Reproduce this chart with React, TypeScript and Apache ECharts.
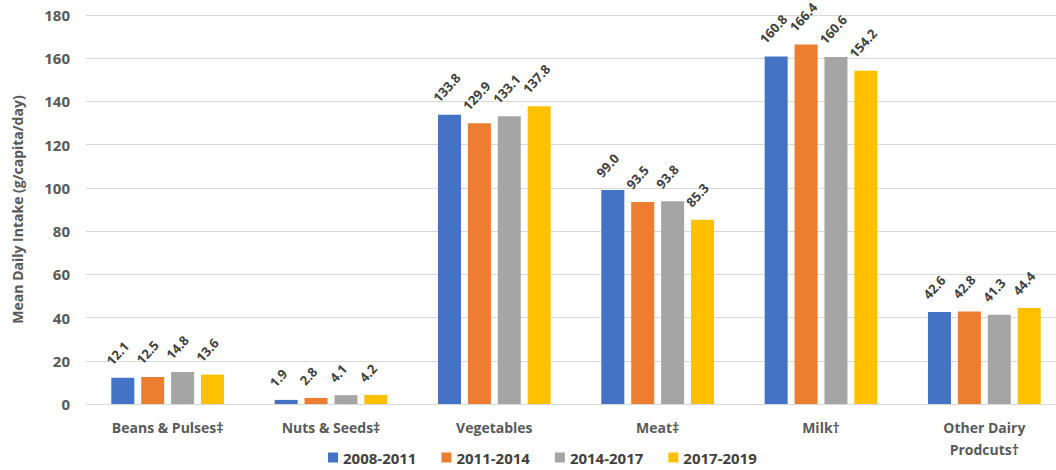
import React, { useEffect, useRef } from "react";
import * as echarts from "echarts";

const categories = [
  "Beans & Pulses‡",
  "Nuts & Seeds‡",
  "Vegetables",
  "Meat‡",
  "Milk†",
  "Other Dairy\nProdcuts†",
];
const seriesNames = ["2008-2011", "2011-2014", "2014-2017", "2017-2019"];
const s2008_2011 = [12.1, 1.9, 133.8, 99.0, 160.8, 42.6];
const s2011_2014 = [12.5, 2.8, 129.9, 93.5, 166.4, 42.8];
const s2014_2017 = [14.8, 4.1, 133.1, 93.8, 160.6, 41.3];
const s2017_2019 = [13.6, 4.2, 137.8, 85.3, 154.2, 44.4];
const colors = ["#4472C4", "#ED7D31", "#A5A5A5", "#FFC000"];
const yTicks = { min: 0, max: 180, interval: 20 };

const FONT = "'Open Sans', 'DejaVu Sans', sans-serif";
const BAR_W = 23;
const BAR_GAP = 0.3;
const LABEL_ANGLE = 48;

export default function App() {
  const ref = useRef<HTMLDivElement>(null);
  useEffect(() => {
    if (!ref.current) return;
    const chart = echarts.init(ref.current, undefined, { renderer: "svg" });
    const data = [s2008_2011, s2011_2014, s2014_2017, s2017_2019];
    const step = BAR_W * (1 + BAR_GAP);
    const barSeries = seriesNames.map((name, i) => ({
      name,
      type: "bar",
      data: data[i],
      barWidth: BAR_W,
      barGap: BAR_GAP * 100 + "%",
      itemStyle: { color: colors[i] },
    }));
    const labelSeries = seriesNames.map((name, i) => ({
      name: name + " labels",
      type: "custom",
      silent: true,
      z: 5,
      encode: { x: 0, y: 1 },
      data: data[i].map((v, c) => [c, v]),
      renderItem: (_params: any, api: any) => {
        const c = api.value(0);
        const v = api.value(1);
        const pt = api.coord([c, v]);
        const cx = pt[0] + (i - 1.5) * step;
        return {
          type: "text",
          x: cx - 14,
          y: pt[1] - 15,
          rotation: (LABEL_ANGLE * Math.PI) / 180,
          style: {
            text: Number(v).toFixed(1),
            align: "left",
            verticalAlign: "middle",
            fontFamily: FONT,
            fontWeight: "bold",
            fontSize: 13,
            fill: "#404040",
          },
        };
      },
    }));
    chart.setOption({
      animation: false,
      textStyle: { fontFamily: FONT },
      grid: {
        left: 86,
        right: 4,
        top: 15,
        bottom: 66,
        containLabel: false,
        outerBoundsMode: "none",
      },
      legend: {
        data: seriesNames,
        left: 328,
        top: 450,
        icon: "rect",
        itemWidth: 10,
        itemHeight: 10,
        itemGap: 25,
        padding: 0,
        textStyle: {
          fontFamily: FONT,
          fontWeight: "bold",
          fontSize: 15,
          color: "#404040",
          padding: [0, 0, 0, 0],
        },
      },
      xAxis: {
        type: "category",
        data: categories,
        axisLine: { lineStyle: { color: "#D9D9D9", width: 1 } },
        axisTick: { show: false },
        axisLabel: {
          interval: 0,
          margin: 12,
          fontFamily: FONT,
          fontWeight: "bold",
          fontSize: 14,
          color: "#595959",
          lineHeight: 22,
        },
      },
      yAxis: {
        type: "value",
        min: yTicks.min,
        max: yTicks.max,
        interval: yTicks.interval,
        name: "Mean Daily Intake (g/capita/day)",
        nameLocation: "middle",
        nameGap: 62,
        nameTextStyle: {
          fontFamily: FONT,
          fontWeight: "bold",
          fontSize: 14,
          color: "#595959",
        },
        axisLine: { show: false },
        axisTick: { show: false },
        splitLine: { lineStyle: { color: "#D9D9D9", width: 1 } },
        axisLabel: {
          margin: 16,
          fontFamily: FONT,
          fontWeight: "bold",
          fontSize: 15,
          color: "#595959",
        },
      },
      series: [...barSeries, ...labelSeries],
    });
    return () => chart.dispose();
  }, []);
  return (
    <div style={{ position: "fixed", left: 0, top: 0, width: 1056, height: 470, overflow: "hidden", background: "#fff" }}>
      <div ref={ref} style={{ position: "absolute", left: 0, top: 0, width: 1070, height: 470 }} />
    </div>
  );
}
